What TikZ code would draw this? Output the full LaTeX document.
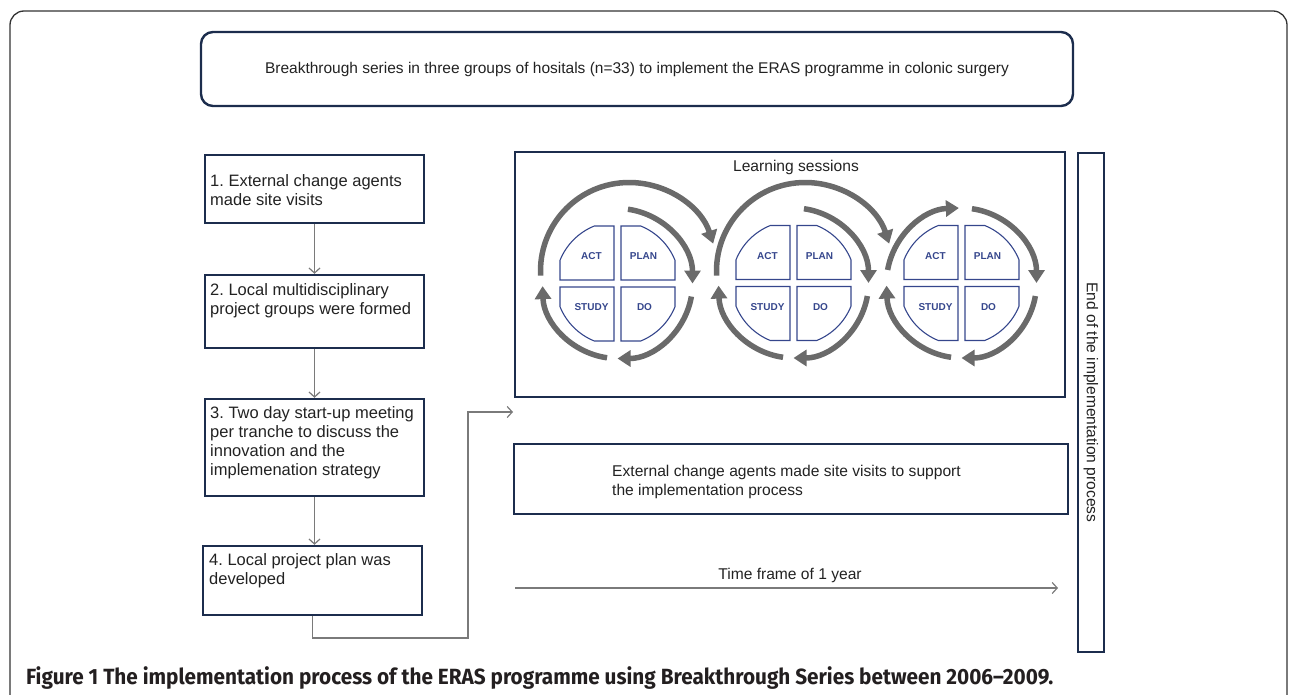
\documentclass[tikz,border=0pt]{standalone}
\usepackage{fontspec}
\usepackage{graphicx}
\setmainfont{Liberation Sans}
\newfontfamily\capfont{Fira Sans}
\usetikzlibrary{arrows.meta,calc}
\definecolor{navy}{HTML}{1C2D4D}
\definecolor{qnavy}{HTML}{35468C}
\definecolor{arcgray}{HTML}{6A6A6A}
\definecolor{conngray}{HTML}{7A7A7A}
\definecolor{capcol}{HTML}{231F20}
\definecolor{txt}{HTML}{222222}
\frenchspacing
\begin{document}
\begin{tikzpicture}[x=1pt,y=1pt,
  framel/.style={draw=black!80, line width=1.3pt},
  topbox/.style={draw=navy, line width=2.4pt, rounded corners=12pt, minimum width=872pt, minimum height=74pt, inner sep=0pt, text=txt, font=\fontsize{15.5}{18}\selectfont},
  lbox/.style={draw=navy, line width=2.4pt, rectangle, inner sep=0pt, minimum width=219pt},
  rbox/.style={draw=navy, line width=2.4pt, rectangle, inner sep=0pt},
  btext/.style={anchor=north west, inner sep=0pt, align=left, text=txt, font=\fontsize{16.5}{19}\selectfont},
  stext/.style={inner sep=0pt, text=txt, font=\fontsize{15.6}{18.5}\selectfont},
  conn/.style={draw=conngray, line width=1.2pt, -{Straight Barb[length=5pt,width=11pt]}},
  cyc/.style={draw=arcgray, line width=5.5pt, -{Triangle[length=13pt,width=16pt]}},
  quadline/.style={draw=qnavy, line width=1.1pt},
  qlab/.style={text=qnavy, inner sep=0pt, font=\fontsize{10}{12}\selectfont\bfseries},
  quad/.pic={\draw[quadline] (3.5,3.5) -- (57.5,3.5) -- (57.5,23.19) arc[start angle=21.96, end angle=68.04, radius=62pt] -- (3.5,57.5) -- cycle;}
]
\useasboundingbox (0,0) rectangle (1290,-695);
% outer frame
\draw[framel, rounded corners=14pt] (10,-695) -- (10,-11) -- (1287,-11) -- (1287,-695);
% top box
\node[topbox] (top) at (637,-69) {Breakthrough series in three groups of hositals (n=33) to implement the ERAS programme in colonic surgery};
% left column
\node[lbox, minimum height=68pt] (b1) at (314.5,-189) {};
\node[lbox, minimum height=73pt] (b2) at (314.5,-311.5) {};
\node[lbox, minimum height=97pt] (b3) at (314.5,-447.5) {};
\node[lbox, minimum height=69pt] (b4) at (312.5,-580.5) {};
\node[btext] (t1) at (210,-174) {1. External change agents\\made site visits};
\node[btext] (t2) at (210,-283) {2. Local multidisciplinary\\project groups were formed};
\node[btext] (t3) at (210,-406) {3. Two day start-up meeting\\per tranche to discuss the\\innovation and the\\implemenation strategy};
\node[btext] (t4) at (209,-553) {4. Local project plan was\\developed};
\draw[conn] (b1.south) -- (b2.north);
\draw[conn] (b2.south) -- (b3.north);
\draw[conn] (b3.south) -- (b3.south |- b4.north);
\coordinate (k2) at (468,-638);
\coordinate (k3) at (468,-412);
\coordinate (kend) at (513,-412);
\draw[conn] (b4.south) -- (b4.south |- k2) -- (k2) -- (k3) -- (kend);
% learning sessions
\node[rbox, minimum width=550pt, minimum height=245pt] (learn) at (790,-274.5) {};
\node[stext, anchor=base] (lst) at (796,-171.5) {Learning sessions};
% cycles
\coordinate (C1) at (617.5,-283.5);
\coordinate (C2) at (793.5,-283);
\coordinate (C3) at (961.5,-283);
\foreach \c in {C1,C2,C3}{
  \pic[rotate=0] at (\c) {quad};
  \pic[rotate=90] at (\c) {quad};
  \pic[rotate=180] at (\c) {quad};
  \pic[rotate=270] at (\c) {quad};
  \node[qlab] (\c act) at ($(\c)+(-26,27)$) {ACT};
  \node[qlab] (\c plan) at ($(\c)+(26,27)$) {PLAN};
  \node[qlab] (\c study) at ($(\c)+(-26,-24)$) {STUDY};
  \node[qlab] (\c do) at ($(\c)+(27,-24)$) {DO};
  \draw[cyc] ($(\c)+(82:75)$) arc[start angle=82, end angle=0, radius=75pt];
  \draw[cyc] ($(\c)+(-10:75)$) arc[start angle=-10, end angle=-90, radius=75pt];
  \draw[cyc] ($(\c)+(-98:75)$) arc[start angle=-98, end angle=-178, radius=75pt];
}
\coordinate (B1) at ($(C1)+(11.5,12.5)$);
\coordinate (B2) at ($(C2)+(11.5,12)$);
\draw[cyc] ($(B1)+(183:88.5)$) arc[start angle=183, end angle=18, radius=88.5pt];
\draw[cyc] ($(B2)+(183:88.5)$) arc[start angle=183, end angle=18, radius=88.5pt];
\draw[cyc] ($(C3)+(170:75)$) arc[start angle=170, end angle=92, radius=75pt];
% external visits box
\node[rbox, minimum width=554pt, minimum height=70pt] (ext) at (791,-479) {};
\node[stext, anchor=north west, align=left] (extt) at (612,-465) {External change agents made site visits to support\\the implementation process};
% time frame
\coordinate (tf0) at (515,-588);
\coordinate (tf1) at (1058,-588);
\draw[conn] (tf0) -- (tf1);
\node[stext, anchor=base] (tft) at (790,-579) {Time frame of 1 year};
% end box
\node[rbox, stext, rotate=-90, minimum width=499pt, minimum height=26pt] (endb) at (1091,-402.5) {End of the implementation process};
% caption
\node[anchor=base west, inner sep=0pt, text=capcol, font=\capfont\bfseries\fontsize{22}{26}\selectfont] (cap) at (26,-684) {\resizebox{1027pt}{\height}{Figure 1 The implementation process of the ERAS programme using Breakthrough Series between 2006\textendash 2009.}};
\end{tikzpicture}
\end{document}
